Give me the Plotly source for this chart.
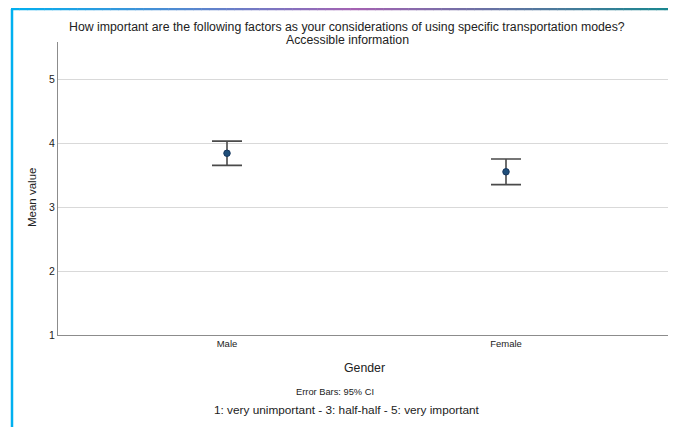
import plotly.graph_objects as go

categories = ["Male", "Female"]
means = [3.84, 3.55]
ci_upper = [4.03, 3.75]
ci_lower = [3.65, 3.35]
y_ticks = [1, 2, 3, 4, 5]

OFF = 8  # the page body margin shifts the figure by 8 px
W, H = 676 - OFF, 427 - OFF
L, R, T, B = 58 - OFF, 671 - OFF, 42 - OFF, 335 - OFF
FONT = "Liberation Sans, Arial, sans-serif"

def px(x):
    return (x - OFF - L) / (R - L)

def py(y):
    return (B - (y - OFF)) / (B - T)

xpos = list(range(len(categories)))
fig = go.Figure()
fig.add_trace(go.Scatter(
    x=xpos, y=means, mode="markers",
    marker=dict(size=6.5, color="#1f4e79", line=dict(color="#17375e", width=1)),
    error_y=dict(type="data", symmetric=False,
                 array=[u - m for u, m in zip(ci_upper, means)],
                 arrayminus=[m - l for m, l in zip(means, ci_lower)],
                 color="#4a4a4a", thickness=1.6, width=15),
    showlegend=False, hoverinfo="skip"))

ppu = 279.0
xmin = -(227 - 58) / ppu
xmax = xmin + (R - L) / ppu
fig.update_xaxes(range=[xmin, xmax], tickmode="array", tickvals=xpos, ticktext=categories,
                 showgrid=False, zeroline=False, showline=True, linecolor="#8c8c8c", linewidth=1,
                 ticks="", tickfont=dict(size=9.5, color="#222", family=FONT))
fig.update_yaxes(range=[1, 5 + (79 - 42) / 64.0], tickvals=y_ticks,
                 showgrid=True, gridcolor="#d9d9d9", gridwidth=1, zeroline=False,
                 showline=True, linecolor="#8c8c8c", linewidth=1, ticks="",
                 tickfont=dict(size=10.5, color="#222", family=FONT))

anns = [
    ("How important are the following factors as your considerations of using specific transportation modes?", 347, 27, 12.3),
    ("Accessible information", 347, 40, 12.3),
    ("Gender", 364, 368, 12.3),
    ("Error Bars: 95% CI", 334.5, 392, 9.3),
    ("1: very unimportant - 3: half-half - 5: very important", 347, 410, 11.8),
]
annotations = [dict(text=t, x=px(x), y=py(y), xref="paper", yref="paper", showarrow=False,
                    xanchor="center", yanchor="middle",
                    font=dict(size=s, color="#222", family=FONT)) for t, x, y, s in anns]
annotations.append(dict(text="Mean value", x=px(32), y=py(197), xref="paper", yref="paper",
                        showarrow=False, textangle=-90, xanchor="center", yanchor="middle",
                        font=dict(size=11.5, color="#222", family=FONT)))

shapes = []
shapes.append(dict(type="line", xref="paper", yref="paper", x0=px(12), x1=px(12), y0=py(9), y1=py(440),
                   line=dict(color="#00b0f0", width=2.5)))
shapes.append(dict(type="line", xref="paper", yref="paper", x0=px(672), x1=px(672), y0=py(9), y1=py(440),
                   line=dict(color="#16878f", width=2.5)))
stops = [(0.0, (0, 176, 240)), (0.52, (164, 98, 178)), (1.0, (22, 135, 143))]
def grad(t):
    for (t0, c0), (t1, c1) in zip(stops[:-1], stops[1:]):
        if t0 <= t <= t1:
            f = (t - t0) / (t1 - t0)
            return "rgb(%d,%d,%d)" % tuple(round(a + (b - a) * f) for a, b in zip(c0, c1))
    return "rgb(22,135,143)"
N = 80
x_left, x_right = 11, 673
for i in range(N):
    xa = x_left + (x_right - x_left) * i / N
    xb = x_left + (x_right - x_left) * (i + 1) / N + 0.5
    shapes.append(dict(type="line", xref="paper", yref="paper", x0=px(xa), x1=px(xb), y0=py(9), y1=py(9),
                       line=dict(color=grad((i + 0.5) / N), width=2.5)))

fig.update_layout(width=W, height=H, margin=dict(l=L, r=W - R, t=T, b=H - B),
                  paper_bgcolor="white", plot_bgcolor="white",
                  annotations=annotations, shapes=shapes,
                  font=dict(family=FONT))
fig.write_html("out.html")
